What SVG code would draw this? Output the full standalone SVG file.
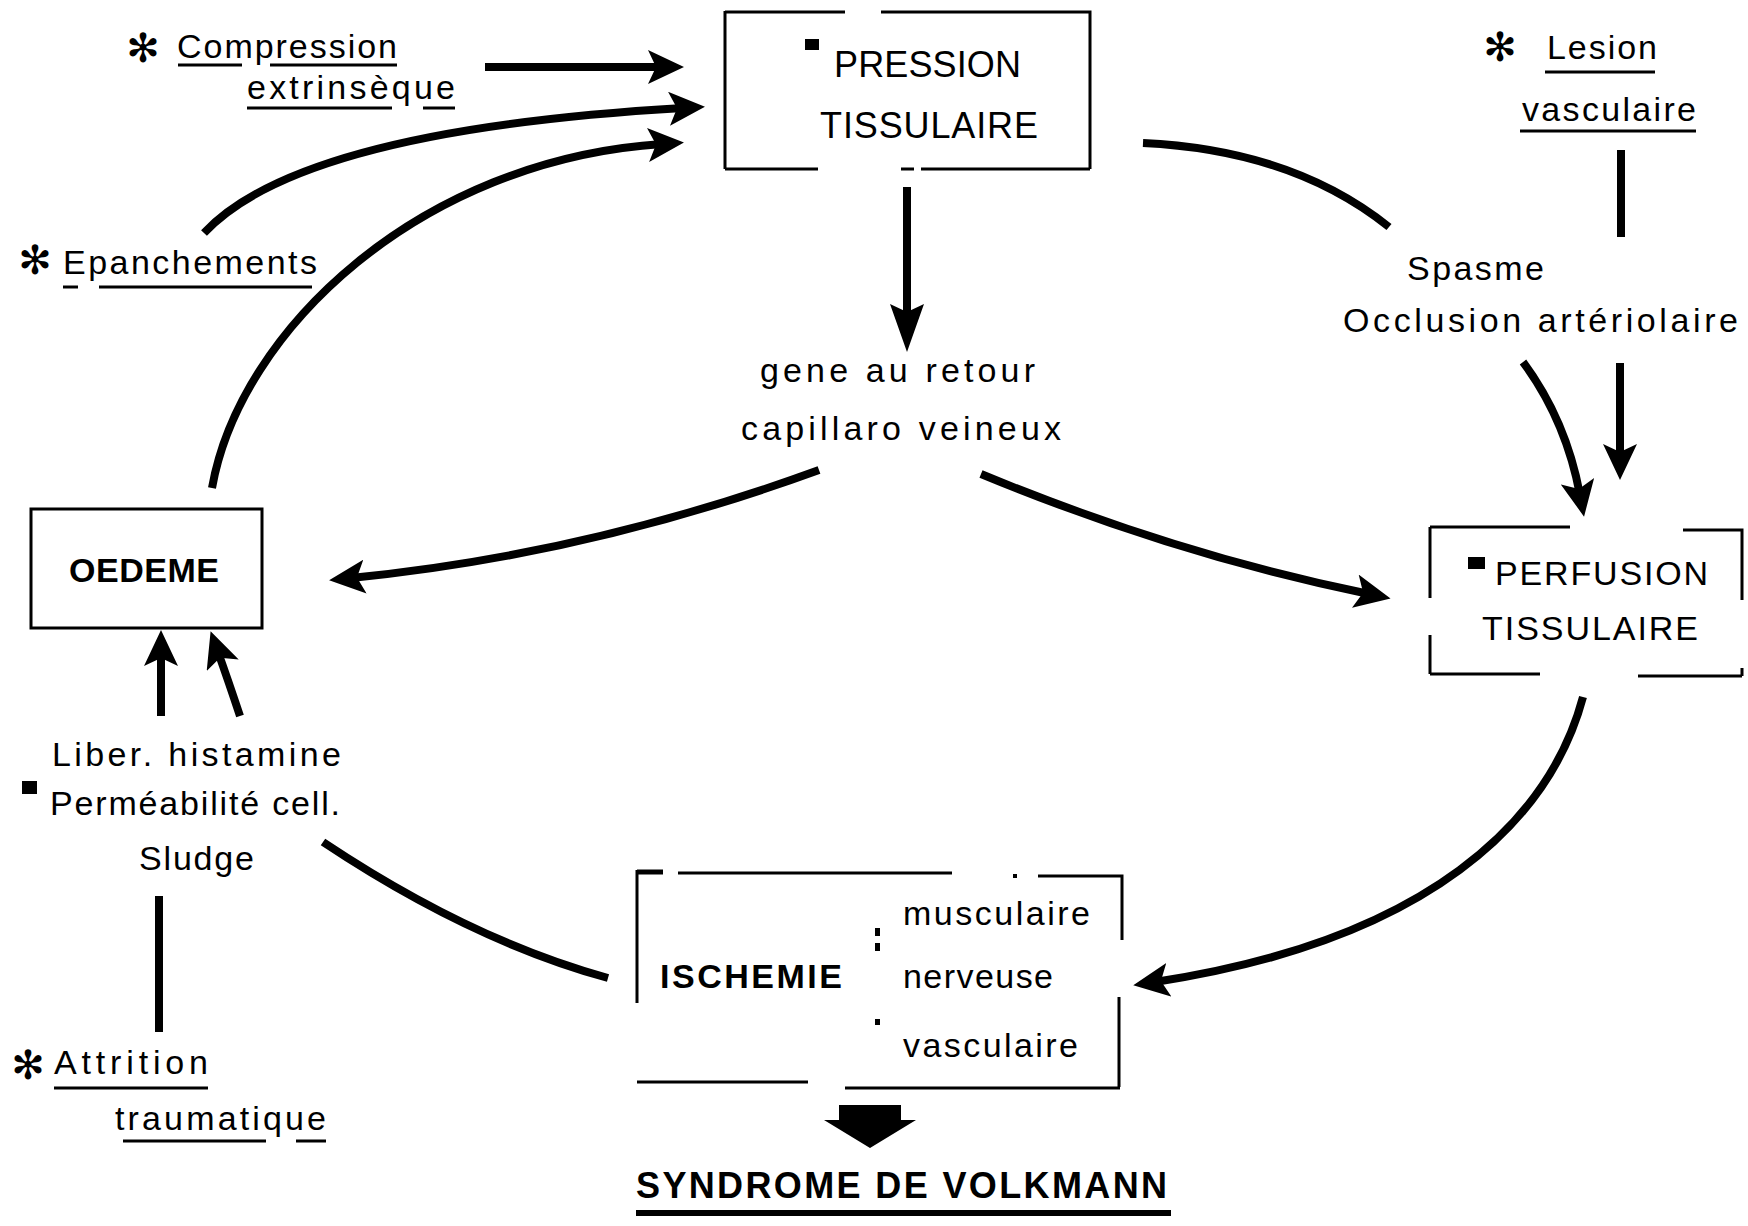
<svg xmlns="http://www.w3.org/2000/svg" width="1748" height="1226" viewBox="0 0 1748 1226">
<style>
.t{font-family:"Liberation Sans",Arial,sans-serif;font-size:34px;fill:#000}
.big{font-size:36px}
.b{font-weight:bold}
.ast{font-family:"DejaVu Sans",sans-serif;font-size:40px;fill:#000;text-anchor:middle}
.ln{stroke:#000;stroke-width:3;fill:none}
.ul{stroke:#000;stroke-width:3}
.c{stroke:#000;stroke-width:8;fill:none}
.a{stroke:#000;stroke-width:8;fill:none;marker-end:url(#ah)}
</style>
<defs>
<marker id="ah" viewBox="0 0 36 34" refX="14" refY="17" markerWidth="36" markerHeight="34" markerUnits="userSpaceOnUse" orient="auto">
<path d="M0,0 L36,17 L0,34 L8,17 Z" fill="#000"/>
</marker>
<marker id="ah2" viewBox="0 0 48 34" refX="18" refY="17" markerWidth="48" markerHeight="34" markerUnits="userSpaceOnUse" orient="auto">
<path d="M0,0 L48,17 L0,34 L8,17 Z" fill="#000"/>
</marker>
</defs>
<rect width="1748" height="1226" fill="#fff"/>

<g id="compression">
<text class="ast" x="143" y="62">✻</text>
<text class="t" x="177" y="58" textLength="220">Compression</text>
<text class="t" x="247" y="99" textLength="208">extrinsèque</text>
<line class="ul" x1="178" y1="65" x2="242" y2="65" stroke-width="5"/>
<line class="ul" x1="270" y1="65" x2="397" y2="65"/>
<line class="ul" x1="247" y1="108" x2="392" y2="108"/>
<line class="ul" x1="423" y1="108" x2="455" y2="108"/>
</g>

<g id="epanchements">
<text class="ast" x="35" y="274">✻</text>
<text class="t" x="63" y="274" textLength="254">Epanchements</text>
<line class="ul" x1="63" y1="287" x2="78" y2="287"/>
<line class="ul" x1="99" y1="287" x2="312" y2="287"/>
</g>

<g id="pression">
<path class="ln" d="M725,11 V169 M725,12 H845 M881,12 H1090 V169 M725,169 H818 M901,169 H914 M921,169 H1090"/>
<rect x="805" y="39" width="14" height="11" fill="#000"/>
<text class="t big" x="834" y="77" textLength="187">PRESSION</text>
<text class="t big" x="820" y="138" textLength="218">TISSULAIRE</text>
</g>

<g id="lesion">
<text class="ast" x="1500" y="61">✻</text>
<text class="t" x="1547" y="59" textLength="110">Lesion</text>
<text class="t" x="1522" y="121" textLength="174">vasculaire</text>
<line class="ul" x1="1545" y1="72" x2="1655" y2="72"/>
<line class="ul" x1="1520" y1="131" x2="1696" y2="131"/>
</g>

<g id="spasme">
<text class="t" x="1407" y="280" textLength="137">Spasme</text>
<text class="t" x="1343" y="332" textLength="395">Occlusion artériolaire</text>
</g>

<g id="gene">
<text class="t" x="760" y="382" textLength="275">gene au retour</text>
<text class="t" x="741" y="440" textLength="320">capillaro veineux</text>
</g>

<g id="oedeme">
<rect class="ln" x="31" y="509" width="231" height="119"/>
<text class="t b" x="69" y="582" textLength="150">OEDEME</text>
</g>

<g id="perfusion">
<path class="ln" d="M1430,527 V598 M1430,635 V674 M1430,527 H1570 M1683,530 H1742 V600 M1742,668 V676 M1430,674 H1540 M1638,676 H1742"/>
<rect x="1468" y="557" width="17" height="12" fill="#000"/>
<text class="t" x="1495" y="585" textLength="213">PERFUSION</text>
<text class="t" x="1482" y="640" textLength="216">TISSULAIRE</text>
</g>

<g id="liber">
<rect x="22" y="781" width="15" height="13" fill="#000"/>
<text class="t" x="52" y="766" textLength="289">Liber. histamine</text>
<text class="t" x="50" y="815" textLength="290">Perméabilité cell.</text>
<text class="t" x="139" y="870" textLength="115">Sludge</text>
</g>

<g id="attrition">
<text class="ast" x="28" y="1079">✻</text>
<text class="t" x="54" y="1074" textLength="154">Attrition</text>
<text class="t" x="115" y="1130" textLength="211">traumatique</text>
<line class="ul" x1="54" y1="1088" x2="208" y2="1088"/>
<line class="ul" x1="123" y1="1141" x2="266" y2="1141"/>
<line class="ul" x1="296" y1="1141" x2="326" y2="1141"/>
</g>

<g id="ischemie">
<path class="ln" d="M637,870 V1003 M678,873 H952 M1038,876 H1122 V940 M1119,997 V1087 M637,1082 H808 M845,1088 H1120" stroke-width="3.5"/>
<line x1="637" y1="872" x2="663" y2="872" stroke="#000" stroke-width="5"/>
<rect x="1013" y="874" width="4" height="4" fill="#000"/>
<rect x="875" y="928" width="5" height="8" fill="#000"/>
<rect x="875" y="943" width="5" height="8" fill="#000"/>
<rect x="875" y="1019" width="5" height="6" fill="#000"/>
<text class="t b" x="660" y="988" textLength="182">ISCHEMIE</text>
<text class="t" x="903" y="925" textLength="187">musculaire</text>
<text class="t" x="903" y="988" textLength="150">nerveuse</text>
<text class="t" x="903" y="1057" textLength="175">vasculaire</text>
</g>

<g id="volkmann">
<polygon points="839,1105 901,1105 901,1120 916,1120 870,1148 824,1120 839,1120" fill="#000"/>
<text class="t b big" x="636" y="1198" textLength="531">SYNDROME DE VOLKMANN</text>
<line x1="636" y1="1213" x2="1171" y2="1213" stroke="#000" stroke-width="6"/>
</g>

<g id="connectors">
<path class="a" d="M485,67 L662,67" stroke-width="9"/>
<path class="a" d="M204,233 Q300,130 683,108"/>
<path class="a" d="M212,488 C240,330 420,160 662,144"/>
<path d="M907,187 L907,322" stroke="#000" stroke-width="8" fill="none" marker-end="url(#ah2)"/>
<path class="c" d="M1143,143 Q1293,150 1389,227"/>
<path class="c" d="M1621,150 L1621,237"/>
<path class="a" d="M1620,363 L1620,458"/>
<path class="a" d="M1523,362 Q1566,420 1580,495"/>
<path class="a" d="M819,470 Q586,555 351,578"/>
<path class="a" d="M981,474 Q1177,555 1369,594"/>
<path class="a" d="M161,716 L161,652"/>
<path class="a" d="M240,716 Q228,680 218,652"/>
<path class="c" d="M159,896 L159,1032"/>
<path class="c" d="M323,842 Q470,940 608,978"/>
<path class="a" d="M1583,697 C1550,820 1430,940 1155,982"/>
</g>
</svg>
